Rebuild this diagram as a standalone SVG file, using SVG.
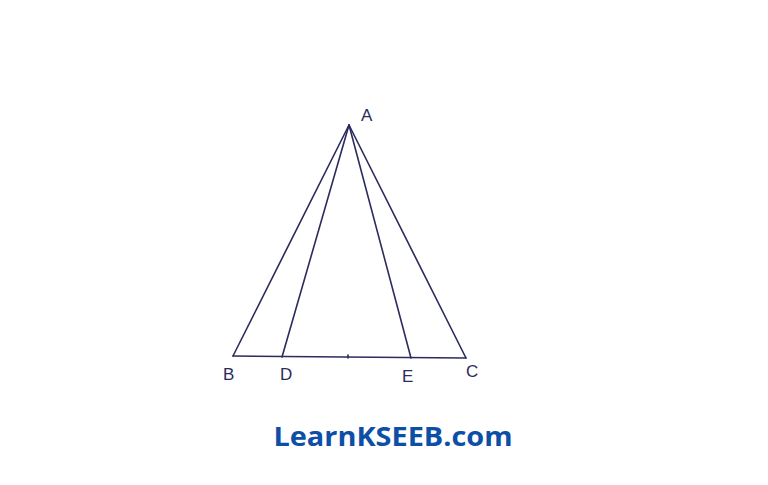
<svg xmlns="http://www.w3.org/2000/svg" width="768" height="485" viewBox="0 0 768 485">
<style>
.ln{stroke:#2b2b5e;stroke-width:1.6;fill:none;stroke-linecap:round}
.lb{font-family:"Liberation Sans",Arial,sans-serif;font-size:17px;fill:#2b2b5e}
.wm{font-family:"Open Sans","Noto Sans",sans-serif;font-weight:bold;font-size:27px;fill:#0d4ea6}
</style>
<rect width="768" height="485" fill="#ffffff"/>
<g id="connectors">
<path class="ln" d="M349,125 L233,356"/>
<path class="ln" d="M349,125 L282,357"/>
<path class="ln" d="M349,125 L411,358"/>
<path class="ln" d="M349,125 L466,358"/>
<path class="ln" d="M233,356 L466,358"/>
<path class="ln" d="M348,355 L348,358"/>
</g>
<g id="A"><text class="lb" x="361" y="121">A</text></g>
<g id="B"><text class="lb" x="223" y="380">B</text></g>
<g id="D"><text class="lb" x="280" y="380">D</text></g>
<g id="E"><text class="lb" x="402" y="382">E</text></g>
<g id="C"><text class="lb" x="466" y="377">C</text></g>
<g id="watermark"><text class="wm" x="393" y="446" text-anchor="middle" textLength="239" lengthAdjust="spacingAndGlyphs">LearnKSEEB.com</text></g>
</svg>
